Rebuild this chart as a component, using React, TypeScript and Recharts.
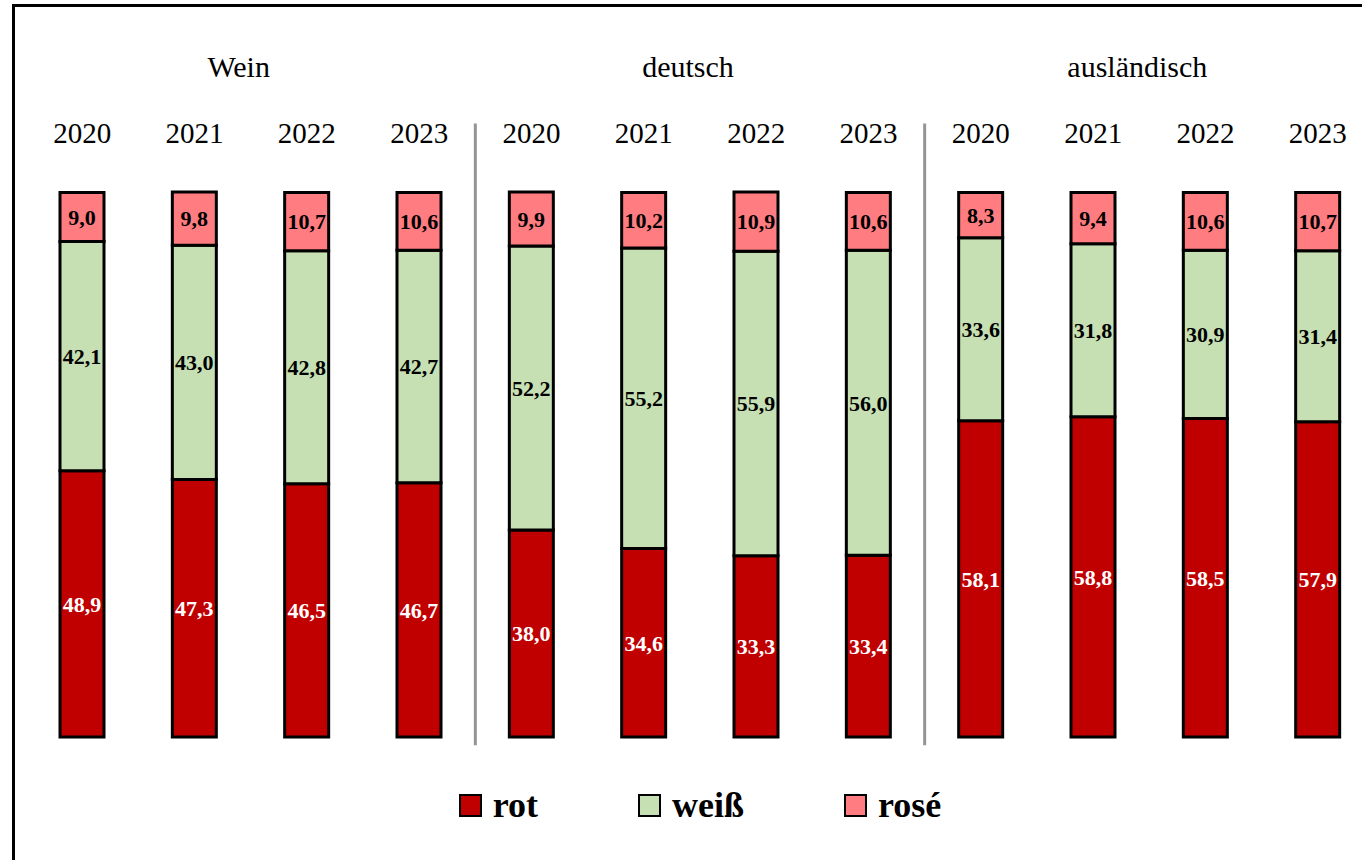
import { BarChart, Bar, XAxis, YAxis, LabelList, Legend, ReferenceLine } from "recharts";

const FONT = '"Liberation Serif", "Times New Roman", serif';

const years = ["2020", "2021", "2022", "2023"];
const groups = ["Wein", "deutsch", "ausländisch"];
const seriesNames = ["rot", "weiß", "rosé"];
const rot = [48.9, 47.3, 46.5, 46.7, 38.0, 34.6, 33.3, 33.4, 58.1, 58.8, 58.5, 57.9];
const weiss = [42.1, 43.0, 42.8, 42.7, 52.2, 55.2, 55.9, 56.0, 33.6, 31.8, 30.9, 31.4];
const rose = [9.0, 9.8, 10.7, 10.6, 9.9, 10.2, 10.9, 10.6, 8.3, 9.4, 10.6, 10.7];

// one row per bar, 4 years per group
const data = rot.map((v, i) => ({ pos: i, rot: v, weiss: weiss[i], rose: rose[i] }));
const groupTicks = groups.map((_, g) => g * years.length + (years.length - 1) / 2);
const dividers = groups.slice(1).map((_, g) => (g + 1) * years.length - 0.5);

const fmt = (v: any) => Number(v).toFixed(1).replace(".", ",");

const labelStyle = { fontSize: 22, fontWeight: 700, fontFamily: FONT, stroke: "none" };

function LegendBox({ payload }: any) {
  // keep series order instead of alphabetical
  const items = [...(payload || [])].sort(
    (a: any, b: any) => seriesNames.indexOf(a.value) - seriesNames.indexOf(b.value)
  );
  return (
    <div
      style={{
        height: 136,
        display: "flex",
        alignItems: "center",
        justifyContent: "center",
        fontFamily: FONT,
      }}
    >
      {items.map((p: any, i: number) => (
        <div key={p.value} style={{ display: "flex", alignItems: "center", marginLeft: i ? 100 : 0 }}>
          <span
            style={{
              width: 19,
              height: 19,
              background: p.color,
              border: "2.5px solid #000",
              marginRight: 11,
            }}
          />
          <span style={{ fontSize: 36, fontWeight: 700, lineHeight: 1, color: "#000" }}>{p.value}</span>
        </div>
      ))}
    </div>
  );
}

const yearTick = { fill: "#000", fontSize: 29, fontFamily: FONT };
const groupTick = { fill: "#000", fontSize: 30, fontFamily: FONT, dx: -12 };

export default function App() {
  return (
    <div
      style={{
        position: "absolute",
        left: 0,
        top: 0,
        width: 1362,
        height: 860,
        overflow: "hidden",
        background: "#fff",
        fontFamily: FONT,
      }}
    >
      <div style={{ position: "absolute", left: 12, top: 4, border: "3px solid #000", background: "#fff" }}>
        <BarChart
          width={1370}
          height={870}
          data={data}
          margin={{ top: 10, right: 11, bottom: 4, left: 11 }}
          style={{ fontFamily: FONT }}
        >
          <XAxis
            dataKey="pos"
            type="number"
            domain={[-0.5, 11.5]}
            ticks={data.map((d) => d.pos)}
            interval={0}
            orientation="top"
            height={85}
            tickFormatter={(v) => years[v % years.length]}
            axisLine={false}
            tickLine={false}
            tickSize={0}
            tickMargin={49}
            fontFamily={FONT}
            tick={yearTick}
          />
          <XAxis
            xAxisId="grp"
            dataKey="pos"
            type="number"
            domain={[-0.5, 11.5]}
            ticks={groupTicks}
            interval={0}
            orientation="top"
            height={90}
            tickFormatter={(v) => groups[Math.floor(v / years.length)]}
            axisLine={false}
            tickLine={false}
            tickSize={0}
            tickMargin={30}
            fontFamily={FONT}
            tick={groupTick}
          />
          <YAxis hide domain={[0, 100]} />
          {dividers.map((x) => (
            <ReferenceLine
              key={x}
              segment={[
                { x, y: -1.5 },
                { x, y: 112.7 },
              ]}
              stroke="#959595"
              strokeWidth={3}
              ifOverflow="visible"
            />
          ))}
          <Bar dataKey="rot" name={seriesNames[0]} stackId="s" fill="#C00000" stroke="#000" strokeWidth={3} barSize={44} isAnimationActive={false}>
            <LabelList dataKey="rot" position="center" formatter={fmt} fill="#fff" {...labelStyle} />
          </Bar>
          <Bar dataKey="weiss" name={seriesNames[1]} stackId="s" fill="#C6E0B4" stroke="#000" strokeWidth={3} barSize={44} isAnimationActive={false}>
            <LabelList dataKey="weiss" position="center" formatter={fmt} fill="#000" {...labelStyle} />
          </Bar>
          <Bar dataKey="rose" name={seriesNames[2]} stackId="s" fill="#FF7C80" stroke="#000" strokeWidth={3} barSize={44} isAnimationActive={false}>
            <LabelList dataKey="rose" position="center" formatter={fmt} fill="#000" {...labelStyle} />
          </Bar>
          <Legend verticalAlign="bottom" content={<LegendBox />} />
        </BarChart>
      </div>
    </div>
  );
}
